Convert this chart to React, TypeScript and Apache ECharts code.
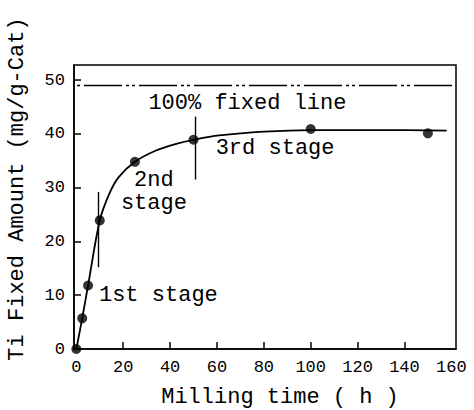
import React, { useEffect, useRef } from "react";
import * as echarts from "echarts";

// Measured points (milling time h, Ti fixed amount mg/g-Cat)
const pointX = [0, 2.5, 5, 10, 25, 50, 100, 150];
const pointY = [0, 5.7, 11.8, 23.9, 34.8, 38.9, 40.9, 40.1];

// Fitted curve
const curveX = [0, 2.5, 5, 10, 14, 18, 25, 34, 43, 50, 61, 80, 100, 130, 158];
const curveY = [0, 5.7, 11.8, 23.9, 28.8, 31.9, 34.8, 36.9, 38.2, 38.9, 39.7, 40.4, 40.7, 40.7, 40.6];

// 100% fixed line level
const fixedLevel = 49;

// stage boundary markers: [x, yFrom, yTo]
const stageMarks = [
  [9.5, 15.2, 29.2],
  [50.6, 31.5, 43.2],
];

// annotation texts at data coords
const annotations = [
  { text: "100% fixed line", x: 73, y: 45.7 },
  { text: "3rd stage", x: 84.8, y: 37.3 },
  { text: "2nd\nstage", x: 33.1, y: 29.2 },
  { text: "1st stage", x: 35, y: 9.9 },
];

const xTickLabels = [0, 20, 40, 60, 80, 100, 120, 140, 160];
const xTicks = [20, 40, 60, 80, 100, 120, 140];
const yTickLabels = [0, 10, 20, 30, 40, 50];
const yTicks = [10, 20, 30, 40, 50];

const FONT = "'Liberation Mono', 'DejaVu Sans Mono', monospace";

export default function App() {
  const ref = useRef<HTMLDivElement>(null);
  useEffect(() => {
    if (!ref.current) return;
    const chart = echarts.init(ref.current, null, { renderer: "svg" });
    const option = {
      animation: false,
      backgroundColor: "#ffffff",
      grid: {
        left: 74,
        top: 65,
        right: 18,
        bottom: 61,
        containLabel: false,
        outerBoundsMode: "none",
        show: true,
        borderColor: "#000",
        borderWidth: 1.5,
        backgroundColor: "transparent",
      },
      xAxis: {
        type: "value",
        min: -1,
        max: 162,
        name: "Milling time ( h )",
        nameLocation: "middle",
        nameGap: 37,
        nameTextStyle: {
          fontFamily: FONT,
          fontSize: 22,
          lineHeight: 22,
          color: "#000",
          padding: [0, 0, 0, 30],
        },
        axisLine: { show: true, onZero: false, lineStyle: { color: "#000", width: 1.5 } },
        axisTick: {
          show: true,
          inside: true,
          length: 7,
          customValues: xTicks,
          lineStyle: { color: "#000", width: 1.5 },
        },
        axisLabel: {
          customValues: xTickLabels,
          fontFamily: FONT,
          fontSize: 17,
          color: "#000",
          margin: 10,
        },
        splitLine: { show: false },
      },
      yAxis: {
        type: "value",
        min: 0,
        max: 52.8,
        name: "Ti Fixed Amount (mg/g-Cat)",
        nameLocation: "middle",
        nameGap: 46,
        nameRotate: 90,
        nameTextStyle: {
          fontFamily: FONT,
          fontSize: 22,
          color: "#000",
          padding: [0, 0, 0, 36],
        },
        axisLine: { show: true, onZero: false, lineStyle: { color: "#000", width: 1.5 } },
        axisTick: {
          show: true,
          inside: true,
          length: 7,
          customValues: yTicks,
          lineStyle: { color: "#000", width: 1.5 },
        },
        axisLabel: {
          customValues: yTickLabels,
          fontFamily: FONT,
          fontSize: 17,
          color: "#000",
          margin: 9,
        },
        splitLine: { show: false },
      },
      series: [
        {
          type: "line",
          name: "curve",
          data: curveX.map((x, i) => [x, curveY[i]]),
          smooth: 0.35,
          showSymbol: false,
          symbol: "none",
          lineStyle: { color: "#000", width: 1.8 },
          z: 2,
          markLine: {
            silent: true,
            symbol: "none",
            label: { show: false },
            data: [
              [
                { coord: [-1, fixedLevel], lineStyle: { color: "#000", width: 1.4, type: [38, 4, 3, 3, 3, 4], dashOffset: 45 } },
                { coord: [162, fixedLevel] },
              ],
              ...stageMarks.map((m) => [
                { coord: [m[0], m[1]], lineStyle: { color: "#000", width: 1.4, type: "solid" } },
                { coord: [m[0], m[2]] },
              ]),
            ],
          },
          markPoint: {
            silent: true,
            symbol: "circle",
            symbolSize: 0,
            data: annotations.map((a) => ({
              coord: [a.x, a.y],
              label: {
                show: true,
                formatter: a.text,
                position: "inside",
                fontFamily: FONT,
                fontSize: 22,
                lineHeight: 23,
                color: "#000",
                align: "center",
                verticalAlign: "middle",
              },
            })),
          },
        },
        {
          type: "scatter",
          name: "points",
          data: pointX.map((x, i) => [x, pointY[i]]),
          symbol: "circle",
          symbolSize: 10,
          itemStyle: { color: "#000" },
          z: 3,
        },
      ],
    };
    chart.setOption(option as any);
    return () => chart.dispose();
  }, []);
  return (
    <div
      ref={ref}
      style={{ position: "fixed", left: 0, top: 0, width: 474, height: 410 }}
    />
  );
}
